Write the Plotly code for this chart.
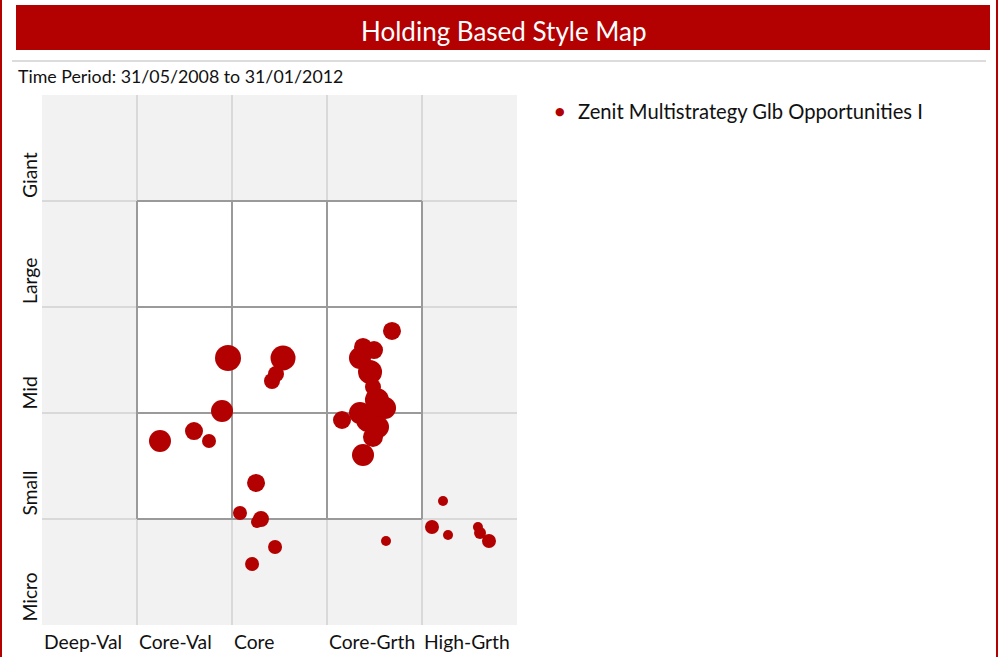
import plotly.graph_objects as go

# ---------------- data ----------------
style_labels = ["Deep-Val", "Core-Val", "Core", "Core-Grth", "High-Grth"]
size_labels = ["Micro", "Small", "Mid", "Large", "Giant"]
series_name = "Zenit Multistrategy Glb Opportunities I"

style_score = [1.242, 1.600, 1.758, 1.895, 1.958, 2.537, 2.463, 2.421, 2.253, 2.084,
               2.305, 2.263, 2.453, 2.211, 3.684, 3.379, 3.495, 3.347, 3.453, 3.484,
               3.526, 3.611, 3.347, 3.432, 3.537, 3.484, 3.379, 3.158, 3.621, 4.221,
               4.105, 4.274, 4.589, 4.611, 4.705]
size_score = [1.736, 1.830, 1.736, 2.019, 2.519, 2.519, 2.368, 2.302, 1.340, 1.057,
              1.000, 0.972, 0.736, 0.575, 2.774, 2.623, 2.594, 2.519, 2.387, 2.245,
              2.123, 2.047, 2.000, 1.934, 1.868, 1.774, 1.604, 1.934, 0.792, 1.170,
              0.925, 0.849, 0.925, 0.868, 0.792]
weight = [22, 18, 14, 22, 26, 25, 16, 16, 18, 14,
          16, 12, 14, 14, 18, 18, 18, 22, 24, 16,
          24, 22, 22, 24, 22, 20, 22, 18, 10, 10,
          14, 10, 10, 12, 14]

# ---------------- layout geometry ----------------
W, H = 999, 657
PL, PR, PT, PB = 42, 517, 95, 625
RED = "#b30000"
FONT = "Lato"


def px(xp):
    return (xp - PL) / (PR - PL)


def py(yp):
    return (PB - yp) / (PB - PT)


fig = go.Figure()
fig.add_trace(go.Scatter(
    x=style_score, y=size_score, mode="markers", name=series_name,
    marker=dict(size=weight, sizemode="diameter", sizeref=1, color=RED,
                line=dict(width=0), opacity=1),
    showlegend=False, hoverinfo="x+y",
))

shapes = []
# inner white box
shapes.append(dict(type="rect", xref="x", yref="y", x0=1, x1=4, y0=1, y1=4,
                   fillcolor="white", line=dict(width=0), layer="below"))
# light grid lines
for i in range(1, 5):
    shapes.append(dict(type="line", xref="x", yref="y", x0=i, x1=i, y0=0, y1=5,
                       line=dict(color="#d9d9d9", width=2), layer="below"))
    shapes.append(dict(type="line", xref="x", yref="y", x0=0, x1=5, y0=i, y1=i,
                       line=dict(color="#d9d9d9", width=2), layer="below"))
# dark inner box lines
for i in range(1, 5):
    shapes.append(dict(type="line", xref="x", yref="y", x0=i, x1=i, y0=1, y1=4,
                       line=dict(color="#9a9a9a", width=2), layer="below"))
    shapes.append(dict(type="line", xref="x", yref="y", x0=1, x1=4, y0=i, y1=i,
                       line=dict(color="#9a9a9a", width=2), layer="below"))

# title bar
shapes.append(dict(type="rect", xref="paper", yref="paper",
                   x0=px(16), x1=px(990), y0=py(50), y1=py(5),
                   fillcolor=RED, line=dict(width=0), layer="above"))
# separator line
shapes.append(dict(type="line", xref="paper", yref="paper",
                   x0=px(12), x1=px(986), y0=py(61), y1=py(61),
                   line=dict(color="#dcdcdc", width=2)))
# red outer borders
shapes.append(dict(type="line", xref="paper", yref="paper",
                   x0=px(1), x1=px(1), y0=py(0), y1=py(H),
                   line=dict(color=RED, width=2)))
shapes.append(dict(type="line", xref="paper", yref="paper",
                   x0=px(997), x1=px(997), y0=py(0), y1=py(H),
                   line=dict(color=RED, width=2)))

annotations = []
annotations.append(dict(text="Holding Based Style Map", xref="paper", yref="paper",
                        x=px(504), y=py(31), xanchor="center", yanchor="middle",
                        showarrow=False, font=dict(family=FONT, size=26, color="white")))
annotations.append(dict(text="Time Period: 31/05/2008 to 31/01/2012", xref="paper", yref="paper",
                        x=px(16), y=py(76), xanchor="left", yanchor="middle",
                        showarrow=False, font=dict(family=FONT, size=17.8, color="#111111")))
# x labels
for i, lab in enumerate(style_labels):
    annotations.append(dict(text=lab, xref="x", yref="paper", x=i, y=py(641),
                            xanchor="left", yanchor="middle", xshift=0, showarrow=False,
                            font=dict(family=FONT, size=19.3, color="#111111")))
# y labels
for i, lab in enumerate(size_labels):
    annotations.append(dict(text=lab, xref="paper", yref="y", x=px(29), y=i,
                            xanchor="center", yanchor="bottom", textangle=-90,
                            showarrow=False, yshift=1,
                            font=dict(family=FONT, size=19.3, color="#111111")))
# legend
annotations.append(dict(text="\u25CF", xref="paper", yref="paper", x=px(560), y=py(111),
                        xanchor="center", yanchor="middle", showarrow=False,
                        font=dict(family="DejaVu Sans", size=11, color=RED)))
annotations.append(dict(text=series_name, xref="paper", yref="paper", x=px(576), y=py(111),
                        xanchor="left", yanchor="middle", showarrow=False,
                        font=dict(family=FONT, size=20.2, color="#111111")))

fig.update_layout(
    width=W, height=H, autosize=False,
    margin=dict(l=PL, r=W - PR, t=PT, b=H - PB, pad=0),
    paper_bgcolor="white", plot_bgcolor="#f2f2f2",
    xaxis=dict(range=[0, 5], showgrid=False, zeroline=False, showticklabels=False,
               fixedrange=True, showline=False),
    yaxis=dict(range=[0, 5], showgrid=False, zeroline=False, showticklabels=False,
               fixedrange=True, showline=False),
    shapes=shapes, annotations=annotations, showlegend=False,
)

fig.write_html(
    "out.html",
    config={"displayModeBar": False},
    post_script="document.body.style.margin='0';document.body.style.overflow='hidden';",
)
